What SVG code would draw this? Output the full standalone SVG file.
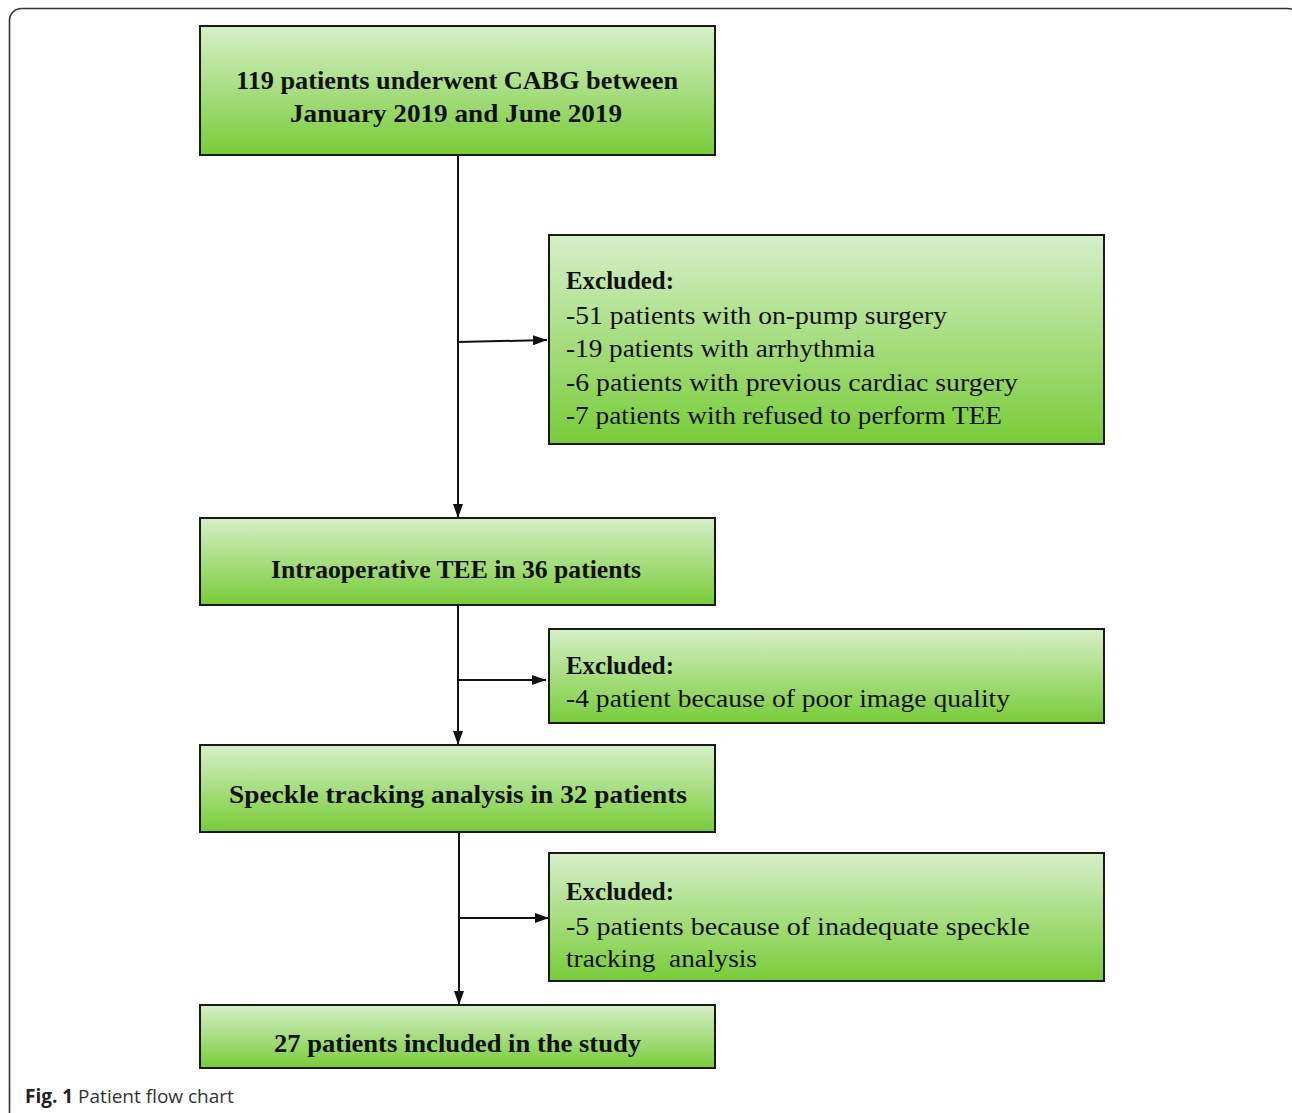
<svg xmlns="http://www.w3.org/2000/svg" width="1292" height="1113" viewBox="0 0 1292 1113">
<defs>
<linearGradient id="g" x1="0" y1="0" x2="0" y2="1">
<stop offset="0" stop-color="#d6efc9"/>
<stop offset="1" stop-color="#79cc38"/>
</linearGradient>
<marker id="ah" markerWidth="14" markerHeight="10" refX="14" refY="5" orient="auto" markerUnits="userSpaceOnUse">
<path d="M0,0 L14,5 L0,10 Z" fill="#111"/>
</marker>
<style>
.box{fill:url(#g);stroke:#1a1a1a;stroke-width:2}
.b{font-family:'Times New Roman',Times,'Liberation Serif',serif;font-weight:bold;font-size:26px;fill:#111}
.r{font-family:'Times New Roman',Times,'Liberation Serif',serif;font-size:26px;fill:#111}
.c{stroke:#111;stroke-width:2;fill:none}
.cap{font-family:'Open Sans','Noto Sans',sans-serif;font-size:19px;fill:#333}
</style>
</defs>
<rect x="9.5" y="8.5" width="1290" height="1130" rx="12" fill="none" stroke="#333" stroke-width="1.6"/>
<g id="connectors">
<line class="c" x1="458" y1="155" x2="458" y2="518" marker-end="url(#ah)"/>
<line class="c" x1="458" y1="342" x2="547" y2="340" marker-end="url(#ah)"/>
<line class="c" x1="458" y1="605" x2="458" y2="745" marker-end="url(#ah)"/>
<line class="c" x1="458" y1="680" x2="546" y2="680" marker-end="url(#ah)"/>
<line class="c" x1="459" y1="832" x2="459" y2="1005" marker-end="url(#ah)"/>
<line class="c" x1="459" y1="918" x2="549" y2="918" marker-end="url(#ah)"/>
</g>
<g id="n1">
<rect class="box" x="200" y="26" width="515" height="129"/>
<text class="b" x="236" y="89" textLength="442" lengthAdjust="spacingAndGlyphs">119 patients underwent CABG between</text>
<text class="b" x="290" y="122" textLength="332" lengthAdjust="spacingAndGlyphs">January 2019 and June 2019</text>
</g>
<g id="n2">
<rect class="box" x="549" y="235" width="555" height="209"/>
<text class="b" x="566" y="289" textLength="108" lengthAdjust="spacingAndGlyphs">Excluded:</text>
<text class="r" x="566" y="324" textLength="381" lengthAdjust="spacingAndGlyphs">-51 patients with on-pump surgery</text>
<text class="r" x="566" y="357" textLength="309" lengthAdjust="spacingAndGlyphs">-19 patients with arrhythmia</text>
<text class="r" x="566" y="391" textLength="452" lengthAdjust="spacingAndGlyphs">-6 patients with previous cardiac surgery</text>
<text class="r" x="566" y="424" textLength="436" lengthAdjust="spacingAndGlyphs">-7 patients with refused to perform TEE</text>
</g>
<g id="n3">
<rect class="box" x="200" y="518" width="515" height="87"/>
<text class="b" x="271" y="578" textLength="370" lengthAdjust="spacingAndGlyphs">Intraoperative TEE in 36 patients</text>
</g>
<g id="n4">
<rect class="box" x="549" y="629" width="555" height="94"/>
<text class="b" x="566" y="674" textLength="108" lengthAdjust="spacingAndGlyphs">Excluded:</text>
<text class="r" x="566" y="707" textLength="444" lengthAdjust="spacingAndGlyphs">-4 patient because of poor image quality</text>
</g>
<g id="n5">
<rect class="box" x="200" y="745" width="515" height="87"/>
<text class="b" x="229" y="803" textLength="458" lengthAdjust="spacingAndGlyphs">Speckle tracking analysis in 32 patients</text>
</g>
<g id="n6">
<rect class="box" x="549" y="853" width="555" height="128"/>
<text class="b" x="566" y="900" textLength="108" lengthAdjust="spacingAndGlyphs">Excluded:</text>
<text class="r" x="566" y="935" textLength="464" lengthAdjust="spacingAndGlyphs">-5 patients because of inadequate speckle</text>
<text class="r" x="566" y="967" textLength="191" lengthAdjust="spacingAndGlyphs" xml:space="preserve">tracking  analysis</text>
</g>
<g id="n7">
<rect class="box" x="200" y="1005" width="515" height="63"/>
<text class="b" x="274" y="1052" textLength="367" lengthAdjust="spacingAndGlyphs">27 patients included in the study</text>
</g>
<text class="cap" x="25" y="1103"><tspan font-weight="bold" fill="#222">Fig. 1</tspan> Patient flow chart</text>
</svg>
